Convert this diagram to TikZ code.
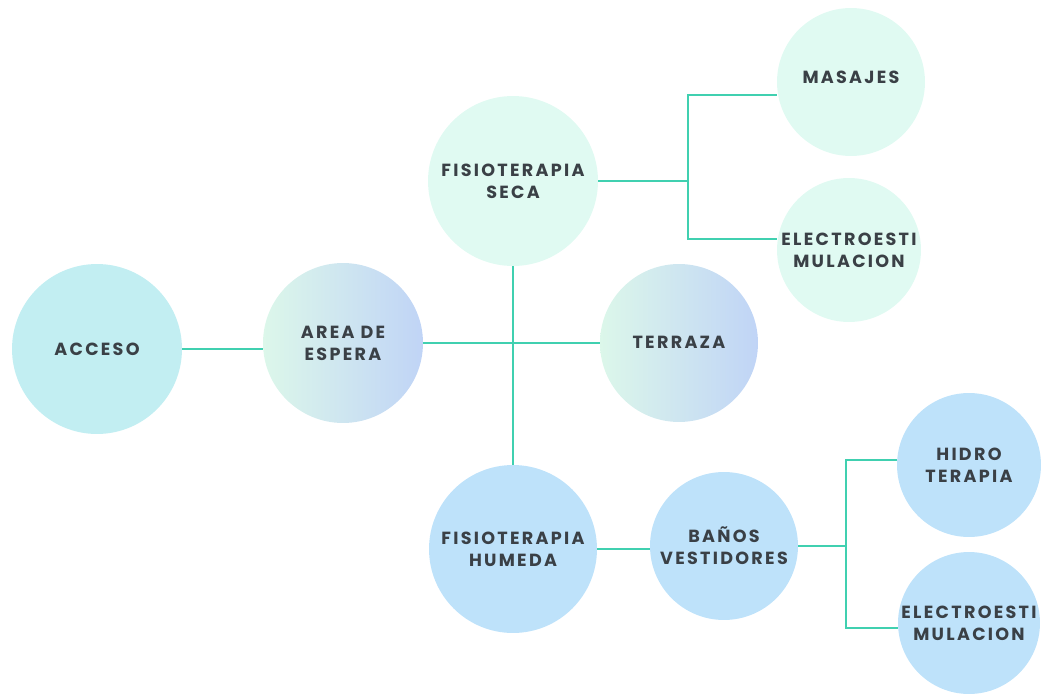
\documentclass[tikz,border=0pt]{standalone}
\usepackage{fontspec}
\setmainfont{Poppins}[LetterSpace=13]
\definecolor{ink}{RGB}{58,64,70}
\definecolor{linkteal}{RGB}{64,208,176}
\definecolor{cyanfill}{RGB}{194,238,242}
\definecolor{mintfill}{RGB}{224,250,242}
\definecolor{bluefill}{RGB}{190,226,250}
\definecolor{gradleft}{RGB}{220,247,234}
\definecolor{gradright}{RGB}{192,212,246}
\begin{document}
\begin{tikzpicture}[x=0.02cm, y=-0.02cm,
    room/.style={circle, inner sep=0pt, text=ink, align=center,
      font=\bfseries\fontsize{10}{12.5}\selectfont},
    cyanroom/.style={room, fill=cyanfill},
    mintroom/.style={room, fill=mintfill},
    blueroom/.style={room, fill=bluefill},
    gradroom/.style={room, left color=gradleft, right color=gradright},
    link/.style={draw=linkteal, line width=1.6pt}]
  \useasboundingbox (0,0) rectangle (1048,696);
  % rooms
  \node[cyanroom, minimum size=3.4cm] (acceso) at (97,349) {ACCESO};
  \node[gradroom, minimum size=3.2cm] (espera) at (343,343) {AREA DE\\ESPERA};
  \node[gradroom, minimum size=3.16cm] (terraza) at (679,343) {\raisebox{0.04cm}{TERRAZA}};
  \node[mintroom, minimum size=3.4cm] (seca) at (513,181) {FISIOTERAPIA\\SECA};
  \node[mintroom, minimum size=2.96cm] (masajes) at (851,82) {\raisebox{0.18cm}{MASAJES}};
  \node[mintroom, minimum size=2.88cm] (elecseca) at (849,250) {ELECTROESTI\\MULACION};
  \node[blueroom, minimum size=3.36cm] (humeda) at (513,549) {FISIOTERAPIA\\HUMEDA};
  \node[blueroom, minimum size=2.96cm] (banos) at (724,546) {BAÑOS\\VESTIDORES};
  \node[blueroom, minimum size=2.88cm] (hidro) at (969,465) {HIDRO\\TERAPIA};
  \node[blueroom, minimum size=2.84cm] (elechum) at (969,623) {ELECTROESTI\\MULACION};
  % branch points
  \coordinate (secajoin) at (688,181);
  \coordinate (secatop) at (688,95);
  \coordinate (secabot) at (688,239);
  \coordinate (banosjoin) at (846,546);
  \coordinate (banostop) at (846,460);
  \coordinate (banosbot) at (846,628);
  % links
  \draw[link] (acceso) -- (acceso -| espera.west);
  \draw[link] (espera) -- (terraza);
  \draw[link] (seca) -- (humeda);
  \draw[link] (seca) -- (secajoin);
  \draw[link] (masajes.west |- secatop) -- (secatop) -- (secabot) -- (elecseca.west |- secabot);
  \draw[link] (humeda) -- (humeda -| banos.west);
  \draw[link] (banos) -- (banosjoin);
  \draw[link] (hidro.west |- banostop) -- (banostop) -- (banosbot) -- (elechum.west |- banosbot);
\end{tikzpicture}
\end{document}
